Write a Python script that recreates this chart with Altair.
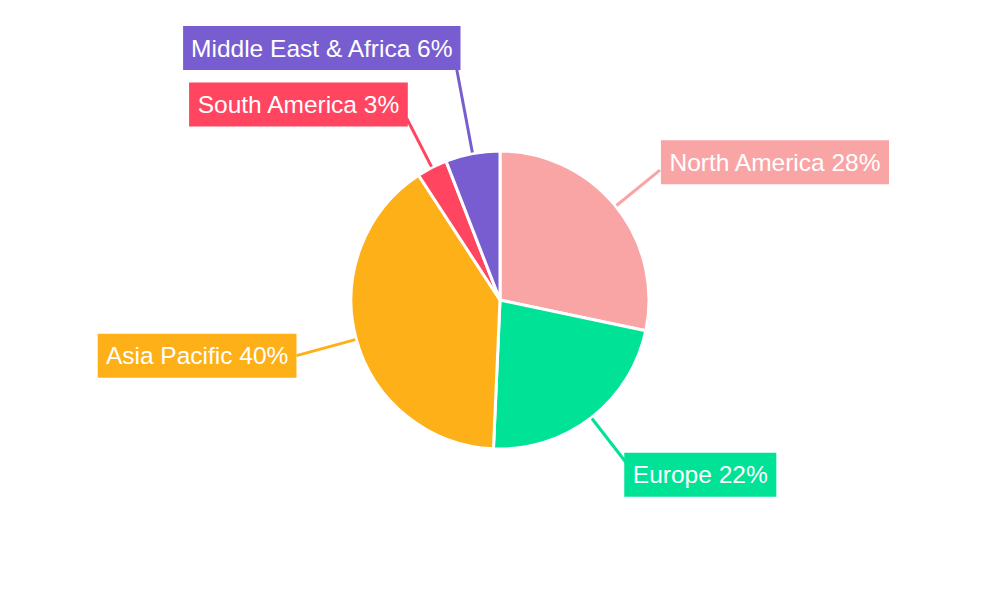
import math
import altair as alt
import pandas as pd

# ---- data ----
regions = ["North America", "Europe", "Asia Pacific", "South America", "Middle East & Africa"]
shares = [28.3, 22.4, 40.1, 3.3, 5.9]
labels = ["North America 28%", "Europe 22%", "Asia Pacific 40%", "South America 3%", "Middle East & Africa 6%"]

# ---- styles / layout ----
colors = ["#F9A5A6", "#00E396", "#FEB019", "#FF4560", "#775DD0"]
W, H = 984, 584
CX, CY = W / 2, H / 2
R = 149
LINE_R0 = 150
label_r = [206, 206, 211, 204, 236]
box_dx = [1, -2, 0, 1, 4]
box_dy = [-8, 12, 0, -14, -20]
FONT = "Liberation Sans"
FONT_SIZE = 24.5
BOX_FONT = 24
PAD_X = 10
BOX_H = 44
TEXT_DY = 1.5

# Arial / Liberation Sans advance widths (per 1000 em)
AW = {" ": 278, "&": 667, "%": 889, "A": 667, "E": 667, "M": 833, "N": 722, "P": 667,
      "S": 667, "a": 556, "c": 500, "d": 556, "e": 556, "f": 278, "h": 556, "i": 222,
      "l": 222, "m": 833, "o": 556, "p": 556, "r": 333, "s": 500, "t": 278, "u": 556}


def text_width(s):
    return sum(AW.get(ch, 556) for ch in s) * BOX_FONT / 1000.0


total = sum(shares)
rows = []
cum = 0.0
for i, (reg, v, lab) in enumerate(zip(regions, shares, labels)):
    mid = (cum + v / 2) / total * 2 * math.pi
    cum += v
    sx, sy = math.sin(mid), -math.cos(mid)
    x0, y0 = CX + LINE_R0 * sx, CY + LINE_R0 * sy
    ex, ey = CX + label_r[i] * sx, CY + label_r[i] * sy
    w = text_width(lab) + 2 * PAD_X
    if sx >= 0:
        bx0, bx1 = ex + box_dx[i], ex + box_dx[i] + w
    else:
        bx0, bx1 = ex + box_dx[i] - w, ex + box_dx[i]
    cy = ey + box_dy[i]
    rows.append(dict(idx=i, region=reg, share=v, label=lab,
                     lx0=x0, ly0=y0, lx1=ex, ly1=ey,
                     bx0=bx0, bx1=bx1, by0=cy - BOX_H / 2, by1=cy + BOX_H / 2,
                     tx=(bx0 + bx1) / 2, ty=cy + TEXT_DY))

df = pd.DataFrame(rows)

color = alt.Color("region:N", scale=alt.Scale(domain=regions, range=colors), legend=None)

pie = alt.Chart(df).mark_arc(outerRadius=R, stroke="white", strokeWidth=3).encode(
    theta=alt.Theta("share:Q", stack=True),
    order=alt.Order("idx:Q"),
    color=color,
)

lines = alt.Chart(df).mark_rule(strokeWidth=3).encode(
    x=alt.X("lx0:Q", scale=None, axis=None),
    y=alt.Y("ly0:Q", scale=None, axis=None),
    x2="lx1:Q",
    y2="ly1:Q",
    color=color,
)

boxes = alt.Chart(df).mark_rect().encode(
    x=alt.X("bx0:Q", scale=None, axis=None),
    x2="bx1:Q",
    y=alt.Y("by0:Q", scale=None, axis=None),
    y2="by1:Q",
    color=color,
)

texts = alt.Chart(df).mark_text(font=FONT, fontSize=FONT_SIZE, color="white",
                                align="center", baseline="middle").encode(
    x=alt.X("tx:Q", scale=None, axis=None),
    y=alt.Y("ty:Q", scale=None, axis=None),
    text="label:N",
)

chart = alt.layer(pie, lines, boxes, texts).properties(
    width=W, height=H, autosize=alt.AutoSizeParams(type="none"), padding=0,
    background="white",
).configure_view(stroke=None)

chart.save("out.html", embed_options={"renderer": "svg", "actions": False})
